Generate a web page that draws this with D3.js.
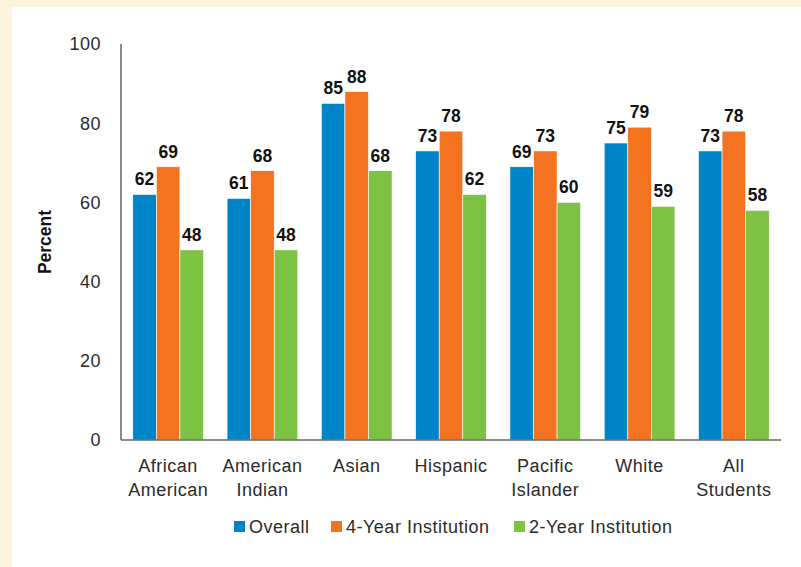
<!DOCTYPE html>
<html lang="en">
<head>
<meta charset="utf-8">
<title>Percent by group</title>
<style>
body { margin: 0; background: #fdf4dc; }
svg { display: block; }
text { font-family: "Liberation Sans", Arial, Helvetica, sans-serif; }
.lbl { letter-spacing: 0.5px; }
</style>
<script src="https://d3js.org/d3.v7.min.js"></script>
</head>
<body>
<svg id="chart" width="801" height="567"></svg>
<script>

var categories = [["African", "American"], ["American", "Indian"], ["Asian"], ["Hispanic"],
                  ["Pacific", "Islander"], ["White"], ["All", "Students"]];
var seriesNames = ["Overall", "4-Year Institution", "2-Year Institution"];
var overall = [62, 61, 85, 73, 69, 75, 73];
var fourYear = [69, 68, 88, 78, 73, 79, 78];
var twoYear = [48, 48, 68, 62, 60, 59, 58];
var yTicks = [0, 20, 40, 60, 80, 100];

var colors = ["#0084c8", "#f37321", "#7dc242"];
var series = [overall, fourYear, twoYear];

var svg = d3.select("#chart");

// white panel
svg.append("rect")
    .attr("x", 12).attr("y", 7)
    .attr("width", 801 - 12).attr("height", 567 - 7)
    .attr("fill", "#fff");

var plotLeft = 121, plotRight = 781, plotTop = 44, plotBottom = 440;

var x = d3.scaleBand()
    .domain(d3.range(categories.length))
    .range([plotLeft, plotRight])
    .paddingInner(0.25)
    .paddingOuter(0.125);

var xs = d3.scaleBand()
    .domain(d3.range(series.length))
    .range([0, x.bandwidth()]);

var y = d3.scaleLinear().domain([0, 100]).range([plotBottom, plotTop]);

// y tick labels
svg.append("g").selectAll("text")
  .data(yTicks)
  .enter().append("text")
    .attr("class", "lbl")
    .attr("x", 101)
    .attr("y", function(d) { return y(d); })
    .attr("dy", "0.35em")
    .attr("text-anchor", "end")
    .attr("font-size", 18)
    .attr("fill", "#2b2b2b")
    .text(function(d) { return d; });

svg.append("text")
    .attr("transform", "translate(51," + y(50) + ") rotate(-90)")
    .attr("text-anchor", "middle")
    .attr("font-size", 17.5)
    .attr("font-weight", "bold")
    .attr("fill", "#111")
    .text("Percent");

// bars
var groups = svg.append("g").selectAll("g")
  .data(categories)
  .enter().append("g")
    .attr("transform", function(d, i) { return "translate(" + x(i) + ",0)"; });

groups.each(function(c, i) {
  var g = d3.select(this);
  series.forEach(function(s, j) {
    g.append("rect")
        .attr("x", xs(j))
        .attr("y", y(s[i]))
        .attr("width", xs.bandwidth())
        .attr("height", y(0) - y(s[i]))
        .attr("fill", colors[j])
        .attr("stroke", "#fff")
        .attr("stroke-width", 0.6);
    g.append("text")
        .attr("x", xs(j) + xs.bandwidth() / 2)
        .attr("y", y(s[i]) - 9)
        .attr("text-anchor", "middle")
        .attr("font-size", 17.5)
        .attr("font-weight", "bold")
        .attr("fill", "#111")
        .text(s[i]);
  });
  g.selectAll(".cat")
    .data(c)
    .enter().append("text")
      .attr("class", "lbl")
      .attr("x", x.bandwidth() / 2)
      .attr("y", function(d, k) { return 472 + k * 24; })
      .attr("text-anchor", "middle")
      .attr("font-size", 18)
      .attr("fill", "#2b2b2b")
      .text(function(d) { return d; });
});

// axes lines
svg.append("line")
    .attr("x1", plotLeft).attr("x2", plotLeft)
    .attr("y1", plotTop).attr("y2", plotBottom)
    .attr("stroke", "#666").attr("stroke-width", 1.5);
svg.append("line")
    .attr("x1", plotLeft).attr("x2", plotRight)
    .attr("y1", plotBottom).attr("y2", plotBottom)
    .attr("stroke", "#666").attr("stroke-width", 1.5);

// legend
var legendX = [234, 331, 514];
var legend = svg.append("g").selectAll("g")
  .data(seriesNames)
  .enter().append("g")
    .attr("transform", function(d, i) { return "translate(" + legendX[i] + ",521)"; });
legend.append("rect")
    .attr("width", 11).attr("height", 11)
    .attr("fill", function(d, i) { return colors[i]; });
legend.append("text")
    .attr("class", "lbl")
    .attr("x", 15).attr("y", 12)
    .attr("font-size", 18)
    .attr("fill", "#2b2b2b")
    .text(function(d) { return d; });

</script>
</body>
</html>
